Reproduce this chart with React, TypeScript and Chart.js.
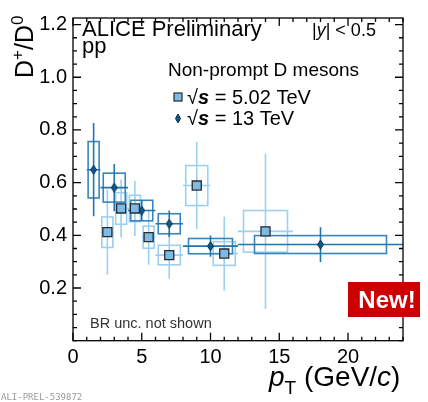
import React, { useEffect, useRef } from 'react';
import { Chart, registerables } from 'chart.js';
Chart.register(...registerables);

// ---- data: sqrt(s) = 5.02 TeV ----
const pt502 = [2.5, 3.5, 4.5, 5.5, 7, 9, 11, 14];
const ptLo502 = [2, 3, 4, 5, 6, 8, 10, 12];
const ptHi502 = [3, 4, 5, 6, 8, 10, 12, 16];
const ratio502 = [0.412, 0.502, 0.502, 0.393, 0.325, 0.589, 0.331, 0.415];
const stat502 = [0.162, 0.11, 0.105, 0.105, 0.09, 0.165, 0.14, 0.295];
const syst502 = [0.058, 0.06, 0.05, 0.042, 0.037, 0.076, 0.045, 0.079];

// ---- data: sqrt(s) = 13 TeV ----
const pt13 = [1.5, 3, 5, 7, 10, 18];
const ptLo13 = [1, 2, 4, 6, 8, 12];
const ptHi13 = [2, 4, 6, 8, 12, 24];
const ratio13 = [0.649, 0.581, 0.494, 0.444, 0.359, 0.365];
const stat13 = [0.177, 0.09, 0.04, 0.05, 0.04, 0.066];
const syst13 = [0.107, 0.055, 0.039, 0.038, 0.029, 0.034];

// ---- axes ----
const xTicks = [0, 5, 10, 15, 20];
const yTicks = [0.2, 0.4, 0.6, 0.8, 1.0, 1.2];
const xMin = 0, xMax = 24, xMinorStep = 1;
const yMin = 0, yMax = 1.225, yMinorStep = 0.05;

const F = '"Liberation Sans", Arial, Helvetica, sans-serif';
const LIGHT = '#9ccff0';
const LIGHT_FILL = '#7cbbe5';
const DARK = '#2274ad';
const DARK_FILL = '#0c5a8d';

type Seg = { t: string; font: string; dy?: number };
function drawSegs(ctx: CanvasRenderingContext2D, x: number, y: number, segs: Seg[]) {
  let cx = x;
  for (const s of segs) {
    ctx.font = s.font;
    ctx.fillText(s.t, cx, y + (s.dy || 0));
    cx += ctx.measureText(s.t).width;
  }
}

function makeDiamond(): HTMLCanvasElement {
  const c = document.createElement('canvas');
  c.width = 7; c.height = 10;
  const g = c.getContext('2d')!;
  g.beginPath();
  g.moveTo(3.5, 0.5); g.lineTo(6.5, 5); g.lineTo(3.5, 9.5); g.lineTo(0.5, 5); g.closePath();
  g.fillStyle = DARK_FILL; g.fill();
  g.strokeStyle = '#063150'; g.lineWidth = 1; g.stroke();
  return c;
}

const errorPlugin = {
  id: 'errBoxes',
  beforeDatasetsDraw(chart: any) {
    const { ctx, chartArea: a, scales } = chart;
    const xs = scales.x, ys = scales.y;
    ctx.save();
    ctx.beginPath(); ctx.rect(a.left, a.top, a.right - a.left, a.bottom - a.top); ctx.clip();
    const series = [
      { pt: pt502, lo: ptLo502, hi: ptHi502, v: ratio502, st: stat502, sy: syst502, box: LIGHT, bar: LIGHT },
      { pt: pt13, lo: ptLo13, hi: ptHi13, v: ratio13, st: stat13, sy: syst13, box: '#3886bb', bar: DARK },
    ];
    for (const s of series) {
      for (let i = 0; i < s.pt.length; i++) {
        const hw = 0.4 * (s.hi[i] - s.lo[i]);
        const x0 = xs.getPixelForValue(s.pt[i] - hw), x1 = xs.getPixelForValue(s.pt[i] + hw);
        const y0 = ys.getPixelForValue(s.v[i] + s.sy[i]), y1 = ys.getPixelForValue(s.v[i] - s.sy[i]);
        ctx.strokeStyle = s.box; ctx.lineWidth = 1.6;
        ctx.strokeRect(x0, y0, x1 - x0, y1 - y0);
        const xc = xs.getPixelForValue(s.pt[i]), yc = ys.getPixelForValue(s.v[i]);
        ctx.strokeStyle = s.bar; ctx.lineWidth = 1.6;
        ctx.beginPath();
        ctx.moveTo(xc, ys.getPixelForValue(s.v[i] + s.st[i]));
        ctx.lineTo(xc, ys.getPixelForValue(s.v[i] - s.st[i]));
        ctx.moveTo(xs.getPixelForValue(s.lo[i]), yc);
        ctx.lineTo(xs.getPixelForValue(s.hi[i]), yc);
        ctx.stroke();
      }
    }
    ctx.restore();
  },
};

const framePlugin = {
  id: 'frameText',
  afterDraw(chart: any) {
    const { ctx, chartArea: a, scales } = chart;
    const xs = scales.x, ys = scales.y;
    ctx.save();
    ctx.strokeStyle = '#000'; ctx.lineWidth = 1.3;
    ctx.strokeRect(a.left, a.top, a.right - a.left, a.bottom - a.top);
    ctx.beginPath();
    const nx = Math.round((xMax - xMin) / xMinorStep);
    for (let k = 0; k <= nx; k++) {
      const v = xMin + k * xMinorStep;
      const major = xTicks.some((t) => Math.abs(t - v) < 1e-6);
      const L = major ? 8 : 4;
      const px = xs.getPixelForValue(v);
      ctx.moveTo(px, a.bottom); ctx.lineTo(px, a.bottom - L);
      ctx.moveTo(px, a.top); ctx.lineTo(px, a.top + L);
    }
    const ny = Math.floor((yMax - yMin) / yMinorStep + 1e-6);
    for (let k = 0; k <= ny; k++) {
      const v = yMin + k * yMinorStep;
      const major = yTicks.some((t) => Math.abs(t - v) < 1e-6);
      const L = major ? 8 : 4;
      const py = ys.getPixelForValue(v);
      ctx.moveTo(a.left, py); ctx.lineTo(a.left + L, py);
      ctx.moveTo(a.right, py); ctx.lineTo(a.right - L, py);
    }
    ctx.stroke();

    ctx.fillStyle = '#000';
    ctx.textBaseline = 'alphabetic';
    ctx.textAlign = 'left';
    ctx.font = `22px ${F}`;
    ctx.fillText('ALICE Preliminary', 82, 36);
    ctx.fillText('pp', 82, 53);
    drawSegs(ctx, 312, 36, [
      { t: '|', font: `18px ${F}` },
      { t: 'y', font: `italic 18px ${F}` },
      { t: '| < 0.5', font: `18px ${F}` },
    ]);
    ctx.font = `19px ${F}`;
    ctx.fillText('Non-prompt D mesons', 168, 76);

    // legend markers
    ctx.fillStyle = LIGHT_FILL; ctx.strokeStyle = '#2a2a2a'; ctx.lineWidth = 1.2;
    ctx.fillRect(174, 93, 8, 8); ctx.strokeRect(174, 93, 8, 8);
    ctx.fillStyle = DARK_FILL; ctx.strokeStyle = '#063150'; ctx.lineWidth = 1;
    ctx.beginPath(); ctx.moveTo(178, 114); ctx.lineTo(180.5, 118.5); ctx.lineTo(178, 123); ctx.lineTo(175.5, 118.5); ctx.closePath();
    ctx.fill(); ctx.stroke();

    ctx.fillStyle = '#000';
    drawSegs(ctx, 187, 104, [
      { t: '√', font: `20px ${F}` },
      { t: 's', font: `italic bold 20px ${F}` },
      { t: ' = 5.02 TeV', font: `20px ${F}` },
    ]);
    drawSegs(ctx, 187, 125, [
      { t: '√', font: `20px ${F}` },
      { t: 's', font: `italic bold 20px ${F}` },
      { t: ' = 13 TeV', font: `20px ${F}` },
    ]);

    ctx.fillStyle = '#333';
    ctx.font = `14.5px ${F}`;
    ctx.fillText('BR unc. not shown', 90, 328);

    // x title
    ctx.fillStyle = '#000';
    drawSegs(ctx, 269, 386, [
      { t: 'p', font: `italic 28px ${F}` },
      { t: 'T', font: `19px ${F}`, dy: 8 },
      { t: ' (GeV/', font: `28px ${F}` },
      { t: 'c', font: `italic 28px ${F}` },
      { t: ')', font: `28px ${F}` },
    ]);

    // y title (rotated)
    ctx.save();
    ctx.translate(33, 78);
    ctx.rotate(-Math.PI / 2);
    drawSegs(ctx, 0, 0, [
      { t: 'D', font: `25px ${F}` },
      { t: '+', font: `17px ${F}`, dy: -10 },
      { t: '/D', font: `25px ${F}` },
      { t: '0', font: `17px ${F}`, dy: -10 },
    ]);
    ctx.restore();

    // New! badge
    ctx.fillStyle = '#cc0000';
    ctx.fillRect(348, 282, 72, 35);
    ctx.fillStyle = '#fff';
    ctx.font = `bold 24px ${F}`;
    ctx.textAlign = 'center';
    ctx.fillText('New!', 387, 308);

    ctx.textAlign = 'left';
    ctx.fillStyle = '#9a9a9a';
    ctx.font = `9px "DejaVu Sans Mono", monospace`;
    ctx.fillText('ALI-PREL-539872', 1, 400);
    ctx.restore();
  },
};

export default function App() {
  const ref = useRef<HTMLCanvasElement>(null);
  useEffect(() => {
    const canvas = ref.current!;
    const diamond = makeDiamond();
    const chart = new Chart(canvas, {
      type: 'scatter',
      data: {
        datasets: [
          {
            label: '5.02 TeV',
            data: pt502.map((x, i) => ({ x, y: ratio502[i] })),
            pointStyle: 'rect',
            pointRadius: 6.4,
            backgroundColor: LIGHT_FILL,
            borderColor: '#2a2a2a',
            borderWidth: 1.3,
          },
          {
            label: '13 TeV',
            data: pt13.map((x, i) => ({ x, y: ratio13[i] })),
            pointStyle: diamond as any,
            pointRadius: 5,
            backgroundColor: DARK_FILL,
            borderColor: '#063150',
          },
        ],
      },
      options: {
        animation: false,
        responsive: false,
        maintainAspectRatio: false,
        devicePixelRatio: 1,
        layout: { padding: { left: 0, top: 14, right: 25, bottom: 0 } },
        plugins: { legend: { display: false }, tooltip: { enabled: false } },
        scales: {
          x: {
            type: 'linear',
            min: xMin,
            max: xMax,
            afterBuildTicks: (s: any) => { s.ticks = xTicks.map((v) => ({ value: v })); },
            afterFit: (s: any) => { s.height = 61.3; },
            ticks: { font: { family: F, size: 20 }, color: '#000', padding: 5, maxRotation: 0, autoSkip: false, callback: (v: any) => String(v) },
            grid: { display: false, drawTicks: false },
            border: { display: false },
          },
          y: {
            type: 'linear',
            min: yMin,
            max: yMax,
            afterBuildTicks: (s: any) => { s.ticks = yTicks.map((v) => ({ value: v })); },
            afterFit: (s: any) => { s.width = 73; },
            ticks: { font: { family: F, size: 20 }, color: '#000', padding: 6, autoSkip: false, callback: (v: any) => Number(v).toFixed(1) },
            grid: { display: false, drawTicks: false },
            border: { display: false },
          },
        },
      },
      plugins: [errorPlugin, framePlugin],
    });
    return () => chart.destroy();
  }, []);
  return (
    <div style={{ position: 'fixed', left: 0, top: 0, width: 428, height: 402, background: '#fff' }}>
      <canvas ref={ref} width={428} height={402} />
    </div>
  );
}
